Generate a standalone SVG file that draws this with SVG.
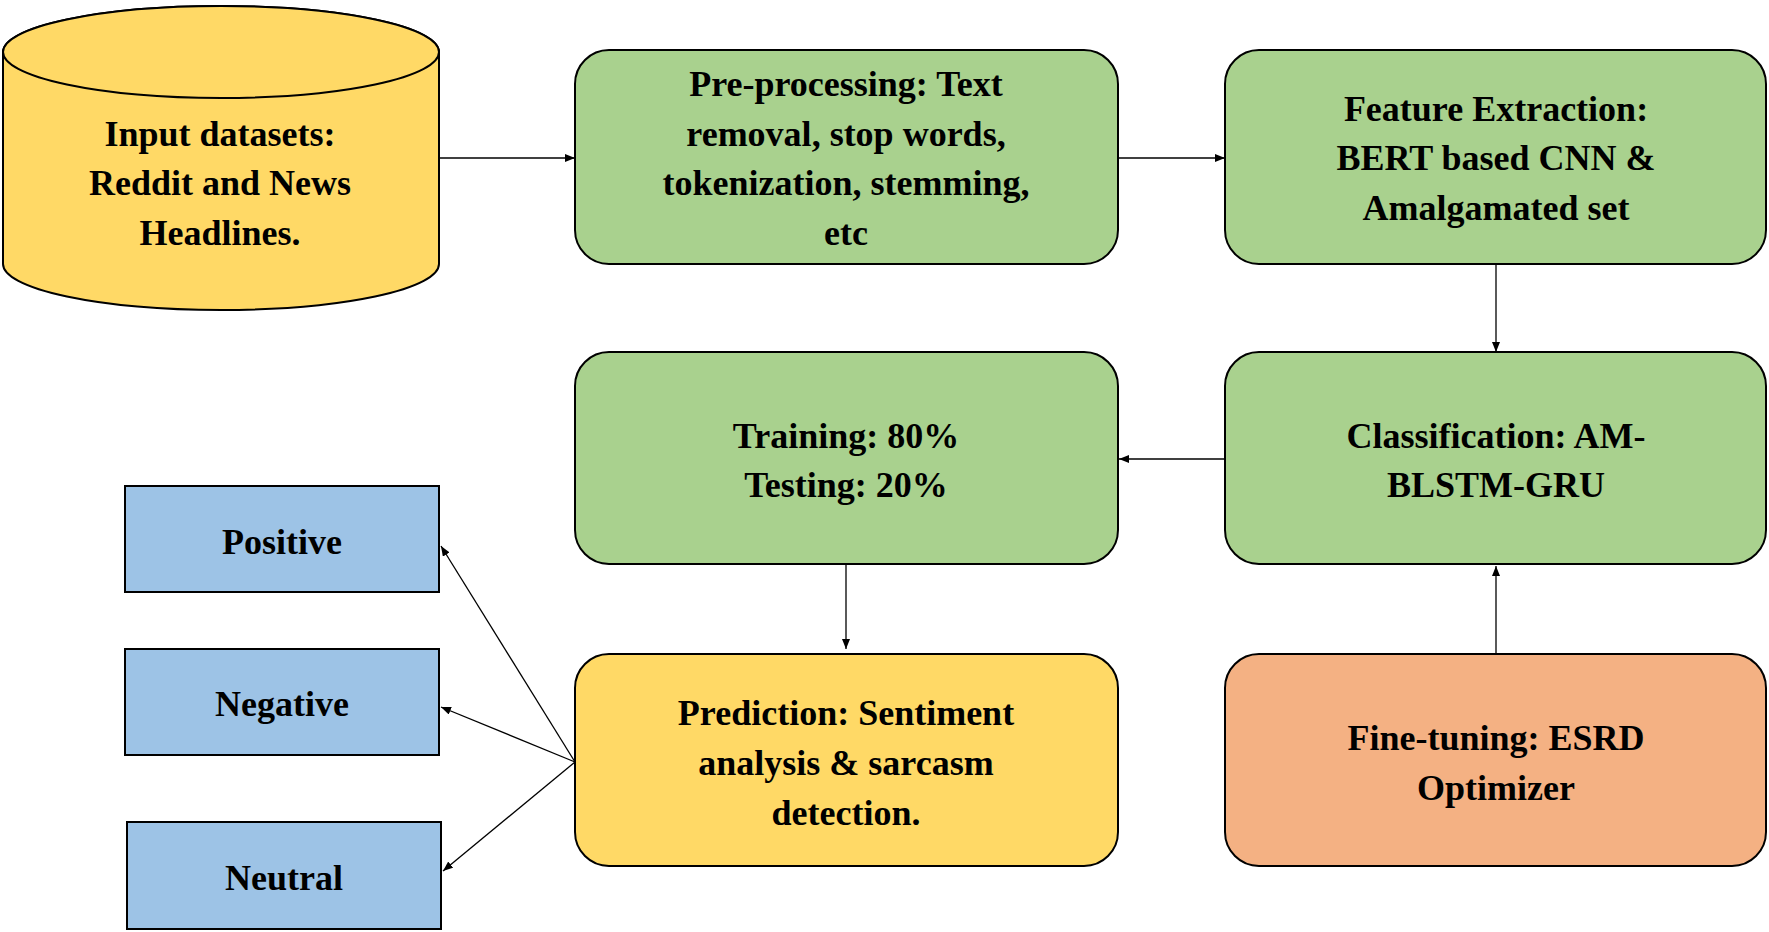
<svg xmlns="http://www.w3.org/2000/svg" width="1769" height="932" viewBox="0 0 1769 932">
<defs>
<marker id="ah" markerWidth="10" markerHeight="8" refX="10" refY="4" orient="auto" markerUnits="userSpaceOnUse"><path d="M0,0 L10,4 L0,8 z" fill="#000"/></marker>
<style>
text{font-family:"Liberation Serif",serif;font-weight:bold;font-size:36px;text-anchor:middle;fill:#000}
.g{fill:#A9D18E;stroke:#000;stroke-width:2}
.y{fill:#FFD966;stroke:#000;stroke-width:2}
.o{fill:#F4B183;stroke:#000;stroke-width:2}
.b{fill:#9DC3E6;stroke:#000;stroke-width:2}
.c{stroke:#000;stroke-width:1.3;fill:none;marker-end:url(#ah)}
</style>
</defs>
<rect width="1769" height="932" fill="#fff"/>
<g id="input">
<path class="y" d="M3,52 L3,264 A218,46 0 0 0 439,264 L439,52 A218,46 0 0 0 3,52 Z"/>
<ellipse class="y" cx="221" cy="52" rx="218" ry="46"/>
<text x="220" y="146">Input datasets:</text><text x="220" y="195">Reddit and News</text><text x="220" y="245">Headlines.</text>
</g>
<g id="preproc"><rect class="g" x="575" y="50" width="543" height="214" rx="34"/>
<text x="846" y="96">Pre-processing: Text</text><text x="846" y="146">removal, stop words,</text><text x="846" y="195">tokenization, stemming,</text><text x="846" y="245">etc</text></g>
<g id="feature"><rect class="g" x="1225" y="50" width="541" height="214" rx="34"/>
<text x="1496" y="121">Feature Extraction:</text><text x="1496" y="170">BERT based CNN &amp;</text><text x="1496" y="220">Amalgamated set</text></g>
<g id="training"><rect class="g" x="575" y="352" width="543" height="212" rx="34"/>
<text x="846" y="448">Training: 80%</text><text x="846" y="497">Testing: 20%</text></g>
<g id="classification"><rect class="g" x="1225" y="352" width="541" height="212" rx="34"/>
<text x="1496" y="448">Classification: AM-</text><text x="1496" y="497">BLSTM-GRU</text></g>
<g id="prediction"><rect class="y" x="575" y="654" width="543" height="212" rx="34"/>
<text x="846" y="725">Prediction: Sentiment</text><text x="846" y="775">analysis &amp; sarcasm</text><text x="846" y="825">detection.</text></g>
<g id="finetuning"><rect class="o" x="1225" y="654" width="541" height="212" rx="34"/>
<text x="1496" y="750">Fine-tuning: ESRD</text><text x="1496" y="800">Optimizer</text></g>
<g id="positive"><rect class="b" x="125" y="486" width="314" height="106"/><text x="282" y="554">Positive</text></g>
<g id="negative"><rect class="b" x="125" y="649" width="314" height="106"/><text x="282" y="716">Negative</text></g>
<g id="neutral"><rect class="b" x="127" y="822" width="314" height="107"/><text x="284" y="890">Neutral</text></g>
<g id="connectors">
<line class="c" x1="439" y1="158" x2="575" y2="158"/>
<line class="c" x1="1118" y1="158" x2="1225" y2="158"/>
<line class="c" x1="1496" y1="264" x2="1496" y2="352"/>
<line class="c" x1="1225" y1="459" x2="1119" y2="459"/>
<line class="c" x1="846" y1="564" x2="846" y2="649"/>
<line class="c" x1="1496" y1="654" x2="1496" y2="566"/>
<line class="c" x1="575" y1="762" x2="441" y2="546"/>
<line class="c" x1="575" y1="762" x2="441" y2="707"/>
<line class="c" x1="575" y1="762" x2="443" y2="871"/>
</g>
</svg>
